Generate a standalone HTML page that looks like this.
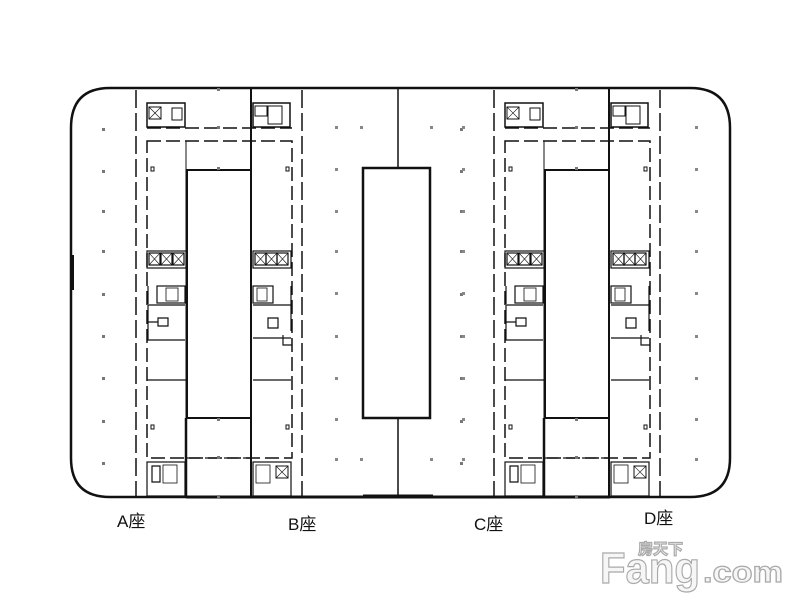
<!DOCTYPE html>
<html><head><meta charset="utf-8"><style>
html,body{margin:0;padding:0;background:#fff;width:800px;height:600px;overflow:hidden}
svg{display:block}
</style></head><body>
<svg width="800" height="600" viewBox="0 0 800 600" xmlns="http://www.w3.org/2000/svg">
<defs>
<g id="blk" fill="none" stroke="#111">
  <rect x="147" y="141" width="145" height="317" stroke-width="1.5" stroke-dasharray="14,5"/>
  <line x1="147" y1="128" x2="292" y2="128" stroke-width="1.5" stroke-dasharray="14,5"/>
  <line x1="136" y1="90" x2="136" y2="497" stroke-width="1.5" stroke-dasharray="18,5"/>
  <line x1="302" y1="90" x2="302" y2="497" stroke-width="1.5" stroke-dasharray="18,5"/>
  <rect x="187" y="170" width="64" height="248" stroke-width="2"/>
  <line x1="251" y1="88" x2="251" y2="498" stroke-width="2"/>
  <line x1="186" y1="418" x2="186" y2="498" stroke-width="2.5"/>
  <line x1="186" y1="141" x2="186" y2="170" stroke-width="1"/>
  <line x1="186" y1="170" x2="186" y2="418" stroke-width="1"/>
  <rect x="147" y="103" width="38" height="24" stroke-width="1.5"/>
  <rect x="149" y="107" width="12" height="12" stroke-width="1"/>
  <line x1="149" y1="107" x2="161" y2="119" stroke-width=".6"/><line x1="161" y1="107" x2="149" y2="119" stroke-width=".6"/>
  <rect x="172" y="108" width="10" height="12" stroke-width="1"/>
  <rect x="253" y="103" width="37" height="24" stroke-width="1.5"/>
  <rect x="255" y="106" width="12" height="10" stroke-width="1"/>
  <rect x="268" y="106" width="14" height="18" stroke-width="1"/>
  <g stroke-width="1.2">
   <rect x="147" y="251" width="39" height="17"/>
   <rect x="149" y="253" width="11" height="12"/><rect x="161" y="253" width="11" height="12"/><rect x="173" y="253" width="11" height="12"/>
   <rect x="253" y="251" width="38" height="17"/>
   <rect x="255" y="253" width="11" height="12"/><rect x="266" y="253" width="11" height="12"/><rect x="277" y="253" width="11" height="12"/>
  </g>
  <g stroke-width=".6">
   <path d="M149 253l11 12M160 253l-11 12M161 253l11 12M172 253l-11 12M173 253l11 12M184 253l-11 12"/>
   <path d="M255 253l11 12M266 253l-11 12M266 253l11 12M277 253l-11 12M277 253l11 12M288 253l-11 12"/>
  </g>
  <g stroke-width="1.2">
   <rect x="157" y="286" width="28" height="17"/><rect x="166" y="288" width="12" height="13" stroke-width=".8"/>
   <path d="M148 286v18M148 305h37M148 305v35h37M158 318h10v8h-10z M148 322h10"/>
   <rect x="253" y="286" width="20" height="17"/><rect x="257" y="288" width="10" height="13" stroke-width=".8"/>
   <path d="M291 286v45M253 305h38M253 338h38M268 318h10v10h-10z M283 335v10h9"/>
   <line x1="147" y1="380" x2="186" y2="380"/>
   <line x1="253" y1="380" x2="291" y2="380"/>
   <line x1="186" y1="458" x2="251" y2="458" stroke-dasharray="14,5"/>
  </g>
  <g stroke-width="1.2">
   <rect x="147" y="462" width="38" height="34"/>
   <rect x="163" y="465" width="14" height="18" stroke-width=".8"/>
   <path d="M152 466h8v16h-8z"/>
   <rect x="253" y="462" width="38" height="34"/>
   <rect x="256" y="465" width="14" height="18" stroke-width=".8"/>
   <rect x="276" y="466" width="12" height="12" stroke-width="1"/>
   <path d="M276 466l12 12M288 466l-12 12" stroke-width=".6"/>
  </g>
  <path d="M151 167v4h3v-4zM286 167v4h3v-4zM151 425v4h3v-4zM286 425v4h3v-4z" stroke-width="1"/>
  <g fill="#777" stroke="none">
   <rect x="102" y="128" width="3" height="3"/><rect x="102" y="170" width="3" height="3"/><rect x="102" y="210" width="3" height="3"/><rect x="102" y="250" width="3" height="3"/>
   <rect x="102" y="293" width="3" height="3"/><rect x="102" y="335" width="3" height="3"/><rect x="102" y="377" width="3" height="3"/><rect x="102" y="420" width="3" height="3"/><rect x="102" y="462" width="3" height="3"/>
   <rect x="217" y="88" width="3" height="3"/><rect x="217" y="126" width="3" height="3"/><rect x="217" y="167" width="3" height="3"/>
   <rect x="217" y="418" width="3" height="3"/><rect x="217" y="456" width="3" height="3"/><rect x="217" y="495" width="3" height="3"/>
  </g>
</g>
</defs>
<rect width="800" height="600" fill="#fff"/>
<path d="M110 88 H690 Q730 88 730 128 V458 Q730 497 690 497 H110 Q71 497 71 458 V128 Q71 88 110 88 Z" fill="none" stroke="#111" stroke-width="2.5"/>
<line x1="186" y1="497" x2="610" y2="497" stroke="#111" stroke-width="3"/>
<line x1="72" y1="255" x2="72" y2="290" stroke="#111" stroke-width="4"/>
<use href="#blk"/>
<use href="#blk" transform="translate(358,0)"/>
<g fill="none" stroke="#111">
 <rect x="363" y="168" width="67" height="250" stroke-width="2.5"/>
 <line x1="398" y1="88" x2="398" y2="168" stroke-width="1.5"/>
 <line x1="398" y1="418" x2="398" y2="497" stroke-width="1.5"/>
 <line x1="363" y1="495" x2="433" y2="495" stroke-width="1"/>
</g>
<g fill="#888">
 <rect x="335" y="126" width="3" height="3"/><rect x="335" y="168" width="3" height="3"/><rect x="335" y="210" width="3" height="3"/><rect x="335" y="250" width="3" height="3"/><rect x="335" y="292" width="3" height="3"/><rect x="335" y="335" width="3" height="3"/><rect x="335" y="377" width="3" height="3"/><rect x="335" y="418" width="3" height="3"/><rect x="335" y="458" width="3" height="3"/>
 <rect x="462" y="126" width="3" height="3"/><rect x="462" y="168" width="3" height="3"/><rect x="462" y="210" width="3" height="3"/><rect x="462" y="250" width="3" height="3"/><rect x="462" y="292" width="3" height="3"/><rect x="462" y="335" width="3" height="3"/><rect x="462" y="377" width="3" height="3"/><rect x="462" y="418" width="3" height="3"/><rect x="462" y="458" width="3" height="3"/>
 <rect x="360" y="126" width="3" height="3"/><rect x="430" y="126" width="3" height="3"/><rect x="360" y="458" width="3" height="3"/><rect x="430" y="458" width="3" height="3"/>
 <rect x="695" y="126" width="3" height="3"/><rect x="695" y="168" width="3" height="3"/><rect x="695" y="210" width="3" height="3"/><rect x="695" y="250" width="3" height="3"/><rect x="695" y="292" width="3" height="3"/><rect x="695" y="335" width="3" height="3"/><rect x="695" y="377" width="3" height="3"/><rect x="695" y="418" width="3" height="3"/><rect x="695" y="458" width="3" height="3"/>
</g>
<g font-family="'Liberation Sans','Noto Sans CJK SC',sans-serif" font-size="17" fill="#111">
 <text x="117" y="527">A座</text>
 <text x="288" y="530">B座</text>
 <text x="474" y="530">C座</text>
 <text x="644" y="524">D座</text>
</g>
<g font-family="'Liberation Sans','Noto Sans CJK SC',sans-serif" fill="#f6f6f6" stroke="#aaa" stroke-width="1.2" font-weight="bold">
 <text x="638" y="554" font-size="15">房天下</text>
 <text x="600" y="583" font-size="44" textLength="100" lengthAdjust="spacingAndGlyphs">Fang</text>
 <text x="703" y="582" font-size="30" textLength="80" lengthAdjust="spacingAndGlyphs">.com</text>
</g>
</svg>
</body></html>
